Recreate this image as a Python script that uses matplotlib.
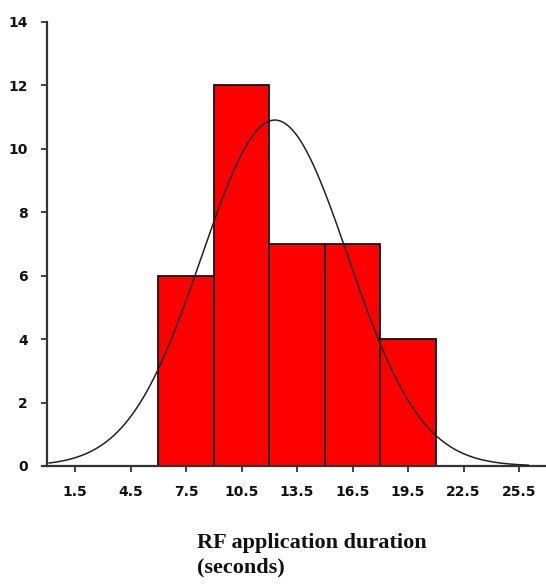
import numpy as np
import matplotlib
matplotlib.use("Agg")
import matplotlib.pyplot as plt

# Histogram data
bin_edges = [6, 9, 12, 15, 18, 21]
counts = [6, 12, 7, 7, 4]
xtick_values = [1.5, 4.5, 7.5, 10.5, 13.5, 16.5, 19.5, 22.5, 25.5]
xtick_labels = ["1.5", "4.5", "7.5", "10.5", "13.5", "16.5", "19.5", "22.5", "25.5"]
ytick_values = [0, 2, 4, 6, 8, 10, 12, 14]

# Fitted normal curve parameters
fit_mean = 12.3
fit_sd = 3.95
fit_range = (0.1, 26.0)

fig = plt.figure(figsize=(5.46, 5.86), dpi=100)
ax = fig.add_axes([0.0866, 0.2048, 0.9114, 0.7577])

lefts = bin_edges[:-1]
widths = np.diff(bin_edges)
ax.bar(lefts, counts, width=widths, align="edge", color="#ff0000",
       edgecolor="#111111", linewidth=1.3, zorder=2)

n_total = sum(counts)
bw = widths[0]
xs = np.linspace(fit_range[0], fit_range[1], 400)
ys = n_total * bw / (fit_sd * np.sqrt(2 * np.pi)) * np.exp(-0.5 * ((xs - fit_mean) / fit_sd) ** 2)
ax.plot(xs, ys, color="#222222", linewidth=1.1, zorder=3)

ax.set_xlim(0, 26.9)
ax.set_ylim(0, 14)
ax.set_xticks(xtick_values)
ax.set_xticklabels(xtick_labels)
ax.set_yticks(ytick_values)

for s in ["top", "right"]:
    ax.spines[s].set_visible(False)
ax.spines["left"].set_linewidth(1.6)
ax.spines["bottom"].set_linewidth(1.6)
ax.spines["left"].set_color("#333333")
ax.spines["bottom"].set_color("#333333")
ax.spines["bottom"].set_bounds(-0.3, 26.9)

ax.tick_params(axis="both", direction="out", length=4, width=1.3, color="#333333")
ax.tick_params(axis="x", pad=10)
ax.tick_params(axis="y", pad=10)
for lbl in ax.get_xticklabels() + ax.get_yticklabels():
    lbl.set_fontsize(10)
    lbl.set_fontweight("bold")
    lbl.set_color("#111111")

fig.text(197 / 546, 1 - 533 / 586, "RF application duration\n(seconds)",
         family="Liberation Serif", fontweight="bold", fontsize=16,
         ha="left", va="top", linespacing=1.3, color="#111111")

fig.savefig("out.png", dpi=100)
